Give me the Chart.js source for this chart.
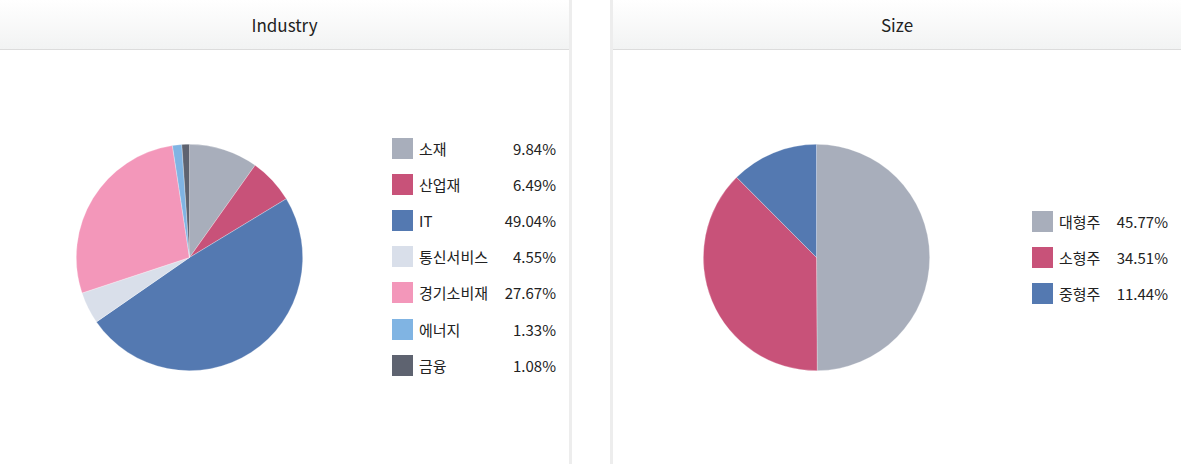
<!DOCTYPE html>
<html>
<head>
<meta charset="utf-8">
<script src="https://cdn.jsdelivr.net/npm/chart.js@4"></script>
<style>
    html, body { margin: 0; padding: 0; background: #fff; }
    body { width: 1181px; height: 464px; position: relative; overflow: hidden;
           font-family: "Noto Sans CJK KR", "Noto Sans", sans-serif; color: #222; }
    .panel { position: absolute; top: 0; height: 464px; background: #fff; }
    .panel.left { left: 0; width: 569px; border-right: 3px solid #ededed; }
    .panel.right { left: 610px; width: 568px; border-left: 3px solid #ededed; }
    .panel .header { height: 50px; line-height: 50px; text-align: center; font-size: 17px; color: #222;
                     background: linear-gradient(#ffffff, #f2f3f3); border-bottom: 1px solid #dcdcdc; box-sizing: border-box; }
    .pie { position: absolute; }
    .legend { position: absolute; font-size: 15px; }
    .legend .row { position: absolute; left: 0; right: 0; height: 36px; display: flex; align-items: center; }
    .legend .box { width: 21px; height: 21px; margin-right: 6px; flex: none; }
    .legend .label { flex: 1; white-space: nowrap; }
    .legend .value { text-align: right; white-space: nowrap; }
</style>
</head>
<body>
<div class="panel left">
    <div class="header">Industry</div>
</div>
<div class="panel right">
    <div class="header">Size</div>
</div>
<canvas id="industryChart" class="pie" width="227" height="227" style="left:76px;top:144px;width:227px;height:227px"></canvas>
<canvas id="sizeChart" class="pie" width="227" height="227" style="left:703px;top:144px;width:227px;height:227px"></canvas>
<div id="industryLegend" class="legend" style="left:392px;top:130px;width:164px;height:260px"></div>
<div id="sizeLegend" class="legend" style="left:1032px;top:203px;width:136px;height:110px"></div>
<script>
// Industry
const industryLabels = ['소재', '산업재', 'IT', '통신서비스', '경기소비재', '에너지', '금융'];
const industryValues = [9.84, 6.49, 49.04, 4.55, 27.67, 1.33, 1.08];
const industryColors = ['#a8aebb', '#c85279', '#5479b1', '#d9dfea', '#f397ba', '#80b4e3', '#5e6370'];

// Size
const sizeLabels = ['대형주', '소형주', '중형주'];
const sizeValues = [45.77, 34.51, 11.44];
const sizeColors = ['#a8aebb', '#c85279', '#5479b1'];

function createPie(canvasId, labels, values, colors) {
    return new Chart(document.getElementById(canvasId), {
        type: 'pie',
        data: {
            labels: labels,
            datasets: [{
                data: values,
                backgroundColor: colors,
                borderColor: 'rgba(255,255,255,0.45)',
                borderWidth: 0.6
            }]
        },
        options: {
            responsive: false,
            animation: false,
            layout: { padding: 0 },
            plugins: {
                legend: { display: false },
                tooltip: { enabled: false }
            }
        }
    });
}

function createLegend(elementId, labels, values, colors) {
    const legendElement = document.getElementById(elementId);
    labels.forEach((label, i) => {
        const row = document.createElement('div');
        row.className = 'row';
        row.style.top = (i * 36.2) + 'px';
        row.innerHTML = '<span class="box" style="background:' + colors[i] + '"></span>' +
            '<span class="label">' + label + '</span>' +
            '<span class="value">' + values[i].toFixed(2) + '%</span>';
        legendElement.appendChild(row);
    });
}

createPie('industryChart', industryLabels, industryValues, industryColors);
createPie('sizeChart', sizeLabels, sizeValues, sizeColors);
createLegend('industryLegend', industryLabels, industryValues, industryColors);
createLegend('sizeLegend', sizeLabels, sizeValues, sizeColors);
</script>
</body>
</html>
